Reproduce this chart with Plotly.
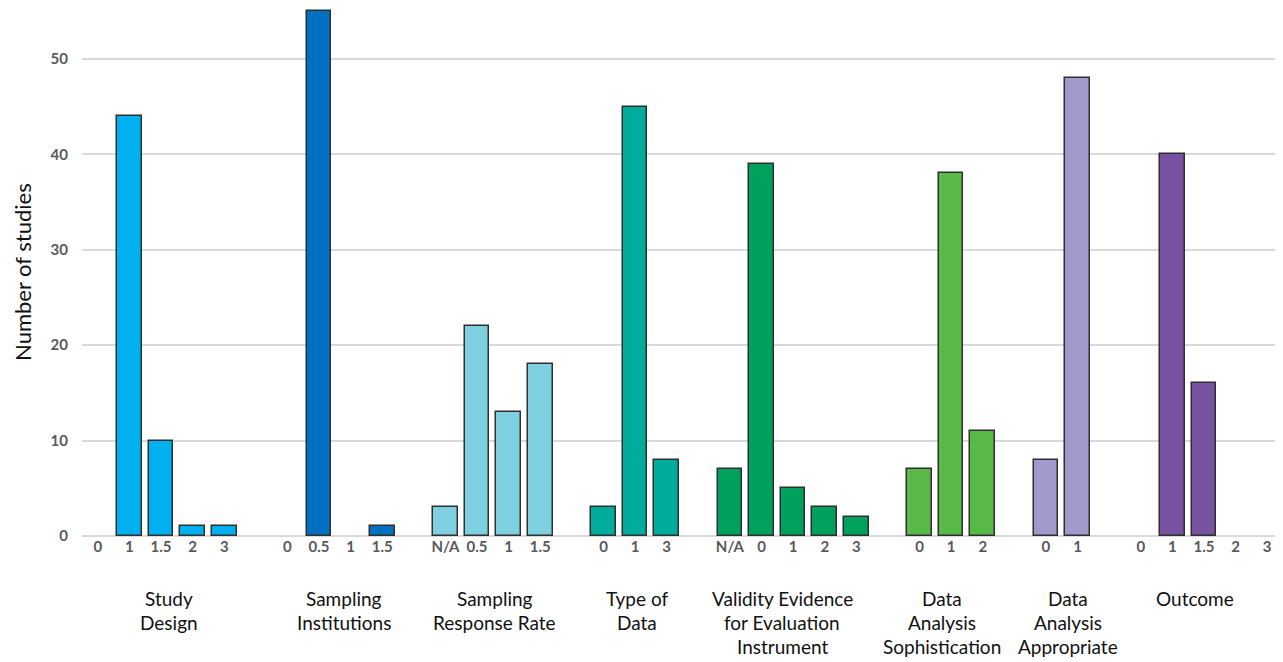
import plotly.graph_objects as go

groups = ["Study Design", "Sampling Institutions", "Sampling Response Rate", "Type of Data",
          "Validity Evidence for Evaluation Instrument", "Data Analysis Sophistication",
          "Data Analysis Appropriate", "Outcome"]
group_lines = [["Study", "Design"], ["Sampling", "Institutions"], ["Sampling", "Response Rate"],
               ["Type of", "Data"], ["Validity Evidence", "for Evaluation", "Instrument"],
               ["Data", "Analysis", "Sophistication"], ["Data", "Analysis", "Appropriate"],
               ["Outcome"]]
sub_labels = [["0", "1", "1.5", "2", "3"],
              ["0", "0.5", "1", "1.5"],
              ["N/A", "0.5", "1", "1.5"],
              ["0", "1", "3"],
              ["N/A", "0", "1", "2", "3"],
              ["0", "1", "2"],
              ["0", "1"],
              ["0", "1", "1.5", "2", "3"]]
values = [[0, 44, 10, 1, 1],
          [0, 55, 0, 1],
          [3, 22, 13, 18],
          [3, 45, 8],
          [7, 39, 5, 3, 2],
          [7, 38, 11],
          [8, 48],
          [0, 40, 16, 0, 0]]
colors = ["#00B0F0", "#0070C0", "#7ED0E0", "#00AC9C", "#00A15C", "#58B947", "#A099CB", "#7652A0"]
# small horizontal nudges of the group captions (in category slots), as in the original layout
label_nudge = [0.25, 0.3, 0.06, 0.06, -0.35, -0.3, 0.2, -0.3]

W, Hfig = 1275, 654
plot_left, plot_top, plot_bot = 74, 0, 528
px_per_unit = (528 - 51) / 50.0
ymax = (plot_bot - plot_top) / px_per_unit

fig = go.Figure()
tickvals, ticktext = [], []
pos = 0
centers = []
for g, labs, vals, col in zip(groups, sub_labels, values, colors):
    xs = list(range(pos, pos + len(labs)))
    tickvals += xs
    ticktext += labs
    centers.append((xs[0] + xs[-1]) / 2)
    lw = [1.5 if v > 0 else 0 for v in vals]
    fig.add_trace(go.Bar(x=xs, y=vals, name=g, width=0.78,
                         marker=dict(color=col, line=dict(color="#2F2F2F", width=lw))))
    pos += len(labs) + 1

line_y = [590, 614, 638]
H = plot_bot - plot_top
for c, nud, lines in zip(centers, label_nudge, group_lines):
    for i, ln in enumerate(lines):
        fig.add_annotation(x=c + nud, xref="x", y=-(line_y[i] - plot_bot) / H, yref="paper",
                           text=ln, showarrow=False, xanchor="center", yanchor="middle",
                           font=dict(size=19, color="#111111", family="Lato"))

fig.add_annotation(x=-0.05, xref="paper", y=0.5, yref="paper", text="Number of studies",
                   textangle=-90, showarrow=False, xanchor="center",
                   font=dict(size=22, color="#111111", family="Lato"))

fig.update_layout(
    width=W, height=Hfig,
    margin=dict(l=plot_left, r=0, t=plot_top, b=Hfig - plot_bot, pad=0),
    plot_bgcolor="white", paper_bgcolor="white",
    showlegend=False, bargap=0,
    font=dict(family="Lato"),
    xaxis=dict(range=[-0.5, pos - 1 - 0.5], tickvals=tickvals, ticktext=ticktext,
               showgrid=False, zeroline=False, showline=False, ticks="",
               tickfont=dict(size=15, color="#595959", family="Lato", weight="bold")),
    yaxis=dict(range=[0, ymax], tickvals=[0, 10, 20, 30, 40, 50], showgrid=True,
               gridcolor="#D9D9D9", gridwidth=1.5, zeroline=True, zerolinecolor="#D9D9D9",
               zerolinewidth=1.5, ticklabelstandoff=13,
               tickfont=dict(size=15, color="#595959", family="Lato", weight="bold")),
)
fig.write_html("out.html")
